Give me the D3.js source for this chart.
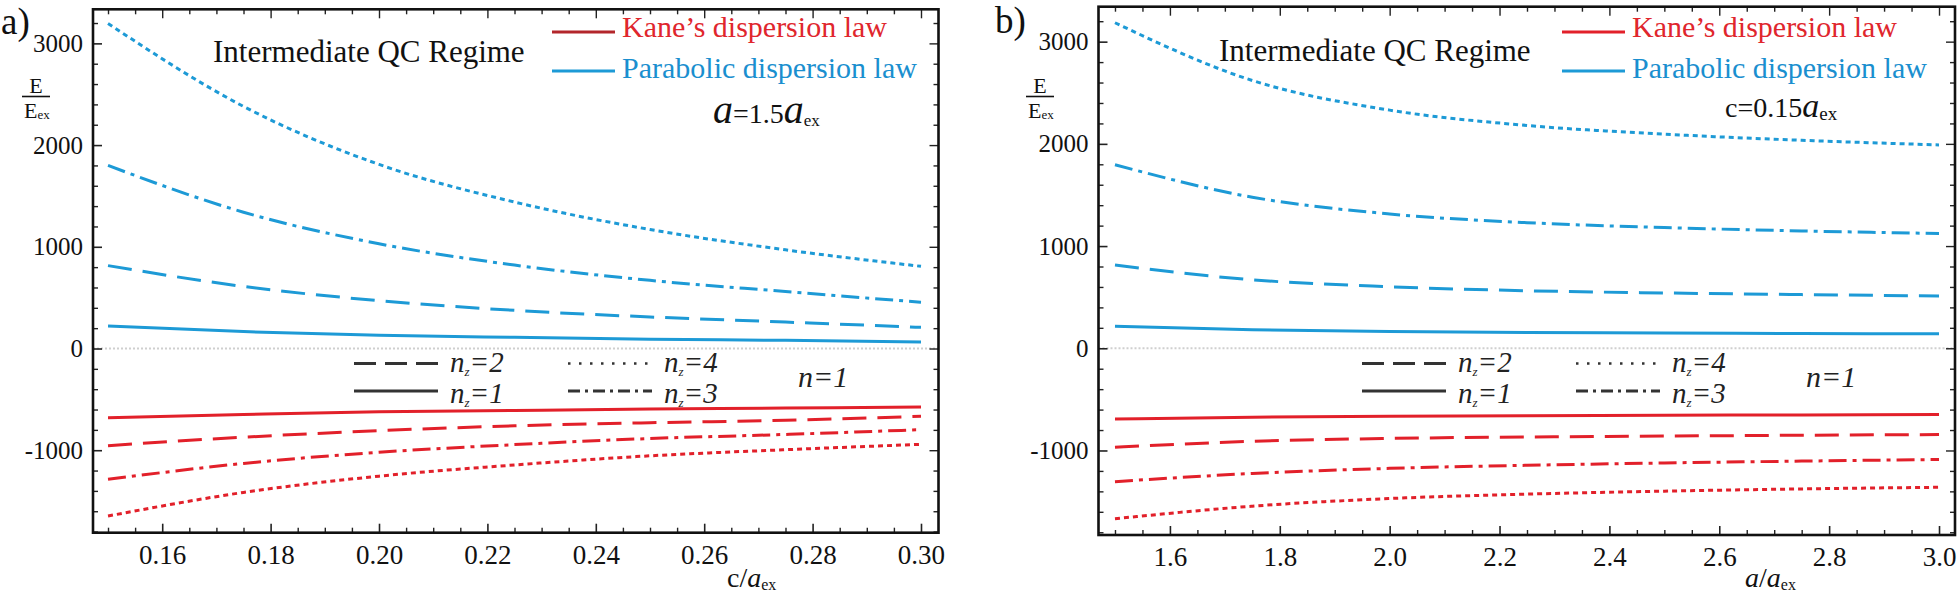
<!DOCTYPE html>
<html><head><meta charset="utf-8">
<script src="https://cdn.jsdelivr.net/npm/d3@7"></script>
<style>
body{margin:0;background:#fff}
svg{display:block}
</style>
</head><body>
<svg id="chart" width="1960" height="593"></svg>
<script>
// ---------------- DATA ----------------
const cValues = [0.15, 0.175, 0.20, 0.225, 0.25, 0.275, 0.30];   // panel a x (c/a_ex)
const aValues = [1.5, 1.75, 2.0, 2.25, 2.5, 2.75, 3.0];           // panel b x (a/a_ex)
const nzLevels = [1, 2, 3, 4];

// Panel a (a = 1.5 a_ex): parabolic dispersion law
const paraA_nz1 = [222, 166, 130, 110, 92, 80, 64];
const paraA_nz2 = [815, 610, 470, 375, 310, 260, 208];
const paraA_nz3 = [1800, 1340, 1030, 820, 670, 560, 455];
const paraA_nz4 = [3195, 2380, 1810, 1440, 1170, 970, 808];
// Panel a: Kane's dispersion law
const kaneA_nz1 = [-680, -648, -622, -609, -596, -586, -574];
const kaneA_nz2 = [-955, -872, -808, -760, -730, -705, -667];
const kaneA_nz3 = [-1286, -1130, -1020, -945, -885, -845, -798];
const kaneA_nz4 = [-1647, -1415, -1255, -1145, -1055, -995, -942];

// Panel b (c = 0.15 a_ex): parabolic dispersion law
const paraB_nz1 = [215, 181, 164, 155, 149, 144, 141];
const paraB_nz2 = [814, 670, 602, 563, 541, 525, 511];
const paraB_nz3 = [1796, 1478, 1314, 1229, 1181, 1148, 1123];
const paraB_nz4 = [3185, 2620, 2330, 2180, 2095, 2035, 1990];
// Panel b: Kane's dispersion law
const kaneB_nz1 = [-693, -674, -666, -660, -656, -652, -649];
const kaneB_nz2 = [-969, -910, -882, -868, -859, -851, -844];
const kaneB_nz3 = [-1305, -1225, -1175, -1145, -1122, -1104, -1088];
const kaneB_nz4 = [-1668, -1545, -1470, -1427, -1398, -1376, -1360];

// Tick labels
const yTickValues = [-1000, 0, 1000, 2000, 3000];
const xTicksA = [0.16, 0.18, 0.20, 0.22, 0.24, 0.26, 0.28, 0.30];
const xTicksB = [1.6, 1.8, 2.0, 2.2, 2.4, 2.6, 2.8, 3.0];

// Texts
const regimeTitle = "Intermediate QC Regime";
const legendKane = "Kane\u2019s dispersion law";
const legendPara = "Parabolic dispersion law";

// ---------------- STYLE ----------------
const SERIF = "'Liberation Serif', 'Times New Roman', 'DejaVu Serif', serif";
const RED = "#e2202a", BLUE = "#1d9ad6";
const dashByNz = ["", "24,11", "18,6,4,6", "5,4"];

const svg = d3.select("#chart").style("font-family", SERIF);

function txt(sel) { return sel.style("font-family", SERIF); }

function drawPanel(p) {
  const x = d3.scaleLinear().domain(p.xDomain).range([p.left, p.right]);
  const y = d3.scaleLinear().domain(p.yDomain).range([p.bottom, p.top]);
  const g = svg.append("g");

  // zero reference line
  g.append("line").attr("x1", p.left).attr("x2", p.right)
    .attr("y1", y(0)).attr("y2", y(0))
    .attr("stroke", "#cfcfcf").attr("stroke-width", 2).attr("stroke-dasharray", "2,2");

  const strip = s => s.select(".domain").remove();
  const yMinor = d3.range(-18, 34).map(i => i * 100).filter(v => v % 200 === 0 && v % 1000 !== 0 && v > p.yDomain[0] && v < p.yDomain[1]);

  const axes = [
    [d3.axisLeft(y).tickValues(yMinor).tickSize(-5).tickFormat(""), `translate(${p.left},0)`],
    [d3.axisRight(y).tickValues(yMinor).tickSize(-5).tickFormat(""), `translate(${p.right},0)`],
    [d3.axisRight(y).tickValues(yTickValues).tickSize(-9).tickFormat(""), `translate(${p.right},0)`],
    [d3.axisBottom(x).tickValues(p.xMinor).tickSize(-5).tickFormat(""), `translate(0,${p.bottom})`],
    [d3.axisTop(x).tickValues(p.xMinor).tickSize(-5).tickFormat(""), `translate(0,${p.top})`],
    [d3.axisTop(x).tickValues(p.xTicks).tickSize(-9).tickFormat(""), `translate(0,${p.top})`]
  ];
  axes.forEach(([ax, tr]) => {
    g.append("g").attr("transform", tr).call(ax).call(strip)
      .selectAll("line").attr("stroke", "#222").attr("stroke-width", 1.4);
  });

  // labelled left axis
  const gl = g.append("g").attr("transform", `translate(${p.left},0)`)
    .call(d3.axisLeft(y).tickValues(yTickValues).tickSize(-9).tickPadding(10).tickFormat(d => String(d)))
    .call(strip);
  gl.attr("font-family", null);
  gl.selectAll("line").attr("stroke", "#222").attr("stroke-width", 1.6);
  txt(gl.selectAll("text")).attr("font-size", 25).attr("fill", "#111");

  // labelled bottom axis
  const gb = g.append("g").attr("transform", `translate(0,${p.bottom})`)
    .call(d3.axisBottom(x).tickValues(p.xTicks).tickSize(-9).tickPadding(12).tickFormat(p.xFmt))
    .call(strip);
  gb.attr("font-family", null);
  gb.selectAll("line").attr("stroke", "#222").attr("stroke-width", 1.6);
  txt(gb.selectAll("text")).attr("font-size", 27).attr("fill", "#111");

  // curves
  const line = d3.line().x((d, i) => x(p.xVals[i])).y(d => y(d)).curve(d3.curveMonotoneX);
  nzLevels.forEach((nz, k) => {
    g.append("path").datum(p.para[k]).attr("d", line)
      .attr("fill", "none").attr("stroke", BLUE).attr("stroke-width", 3)
      .attr("stroke-dasharray", dashByNz[k] || null);
    g.append("path").datum(p.kane[k]).attr("d", line)
      .attr("fill", "none").attr("stroke", RED).attr("stroke-width", 3)
      .attr("stroke-dasharray", dashByNz[k] || null);
  });

  // frame
  g.append("rect").attr("x", p.left).attr("y", p.top)
    .attr("width", p.right - p.left).attr("height", p.bottom - p.top)
    .attr("fill", "none").attr("stroke", "#111").attr("stroke-width", 2.6);

  // panel letter
  txt(g.append("text")).attr("x", p.letterX).attr("y", p.letterY).attr("font-size", 37).attr("fill", "#111").text(p.letter);

  // y label E / E_ex
  const ex = p.eX;
  txt(g.append("text")).attr("x", ex + 8).attr("y", 92.5).attr("text-anchor", "middle").attr("font-size", 22).attr("fill", "#111").text("E");
  g.append("line").attr("x1", ex - 6).attr("x2", ex + 22).attr("y1", 96.5).attr("y2", 96.5)
    .attr("stroke", "#111").attr("stroke-width", 1.6);
  const den = txt(g.append("text")).attr("x", ex - 4).attr("y", 118).attr("font-size", 22).attr("fill", "#111");
  den.append("tspan").text("E");
  den.append("tspan").attr("font-size", 13).attr("dy", 1).text("ex");

  // title
  txt(g.append("text")).attr("x", p.titleX).attr("y", p.titleY).attr("font-size", 31).attr("fill", "#111").text(regimeTitle);

  // top legend
  g.append("line").attr("x1", p.legX).attr("x2", p.legX + 63).attr("y1", 32).attr("y2", 32)
    .attr("stroke", p.kaneLegendColor).attr("stroke-width", 3);
  g.append("line").attr("x1", p.legX).attr("x2", p.legX + 63).attr("y1", 71).attr("y2", 71)
    .attr("stroke", BLUE).attr("stroke-width", 3);
  txt(g.append("text")).attr("x", p.legX + 70).attr("y", 37).attr("font-size", 30).attr("fill", "#e0262d").text(legendKane);
  txt(g.append("text")).attr("x", p.legX + 70).attr("y", 78).attr("font-size", 30).attr("fill", "#1a8fcf").text(legendPara);

  // parameter note
  const note = txt(g.append("text")).attr("x", p.noteX).attr("y", p.noteY).attr("font-size", 28).attr("fill", "#111");
  p.note.forEach(part => {
    const t = note.append("tspan").text(part.t);
    if (part.i) t.attr("font-style", "italic");
    if (part.s) t.attr("font-size", part.s);
    if (part.dy) t.attr("dy", part.dy);
  });

  // nz legend (black line styles)
  const lg = [
    {nz: 2, dx: 0, y: 363.5, ty: 372, dash: "22,9"},
    {nz: 1, dx: 0, y: 391, ty: 403, dash: null},
    {nz: 4, dx: 214, y: 363.5, ty: 372, dash: "2.5,8.5"},
    {nz: 3, dx: 214, y: 391, ty: 403, dash: "12,5,3,5"}
  ];
  lg.forEach(d => {
    g.append("line").attr("x1", p.nzX + d.dx).attr("x2", p.nzX + d.dx + 84)
      .attr("y1", d.y).attr("y2", d.y).attr("stroke", "#333")
      .attr("stroke-width", d.nz === 4 ? 2.5 : 3.2).attr("stroke-dasharray", d.dash);
    const t = txt(g.append("text")).attr("x", p.nzX + d.dx + 96).attr("y", d.ty)
      .attr("font-size", 26).attr("font-style", "italic").attr("fill", "#222");
    t.append("tspan").attr("font-size", 29).text("n");
    t.append("tspan").attr("font-size", 13).attr("dy", 4).text("z");
    t.append("tspan").attr("font-size", 29).attr("dy", -4).text("=" + d.nz);
  });
  txt(g.append("text")).attr("x", p.nzX + 444).attr("y", 387)
    .attr("font-size", 30).attr("font-style", "italic").attr("fill", "#222").text("n=1");

  // x axis title
  const xt = txt(g.append("text")).attr("x", p.xLabX).attr("y", p.xLabY).attr("font-size", 28).attr("fill", "#111");
  p.xLab.forEach(part => {
    const t = xt.append("tspan").text(part.t);
    if (part.i) t.attr("font-style", "italic");
    if (part.s) t.attr("font-size", part.s);
    if (part.dy) t.attr("dy", part.dy);
  });
}

drawPanel({
  letter: "a)", letterX: 1, letterY: 34,
  left: 93, right: 938.5, top: 9.3, bottom: 532.7,
  xDomain: [0.14723, 0.30323], yDomain: [-1811, 3335],
  xVals: cValues, para: [paraA_nz1, paraA_nz2, paraA_nz3, paraA_nz4],
  kane: [kaneA_nz1, kaneA_nz2, kaneA_nz3, kaneA_nz4],
  xTicks: xTicksA, xMinor: d3.range(0, 31).map(i => 0.15 + i * 0.005).filter((v, i) => (i - 2) % 4 !== 0),
  xFmt: d3.format(".2f"),
  eX: 28, titleX: 213, titleY: 62,
  legX: 552, kaneLegendColor: "#b3262b",
  noteX: 713, noteY: 123,
  note: [{t: "a", i: true, s: 40}, {t: "=1.5"}, {t: "a", i: true, s: 40}, {t: "ex", s: 17, dy: 3}],
  nzX: 354,
  xLabX: 727, xLabY: 587,
  xLab: [{t: "c/"}, {t: "a", i: true}, {t: "ex", s: 16, dy: 3}]
});

drawPanel({
  letter: "b)", letterX: 995, letterY: 33,
  left: 1098.5, right: 1955, top: 6.7, bottom: 535,
  xDomain: [1.47, 3.0291], yDomain: [-1827, 3342],
  xVals: aValues, para: [paraB_nz1, paraB_nz2, paraB_nz3, paraB_nz4],
  kane: [kaneB_nz1, kaneB_nz2, kaneB_nz3, kaneB_nz4],
  xTicks: xTicksB, xMinor: d3.range(0, 31).map(i => 1.5 + i * 0.05).filter((v, i) => (i - 2) % 4 !== 0),
  xFmt: d3.format(".1f"),
  eX: 1032, titleX: 1219, titleY: 61,
  legX: 1562, kaneLegendColor: RED,
  noteX: 1725, noteY: 117,
  note: [{t: "c=0.15"}, {t: "a", i: true, s: 34}, {t: "ex", s: 19, dy: 3}],
  nzX: 1362,
  xLabX: 1745, xLabY: 587,
  xLab: [{t: "a", i: true}, {t: "/"}, {t: "a", i: true}, {t: "ex", s: 16, dy: 3}]
});
</script>
</body></html>
